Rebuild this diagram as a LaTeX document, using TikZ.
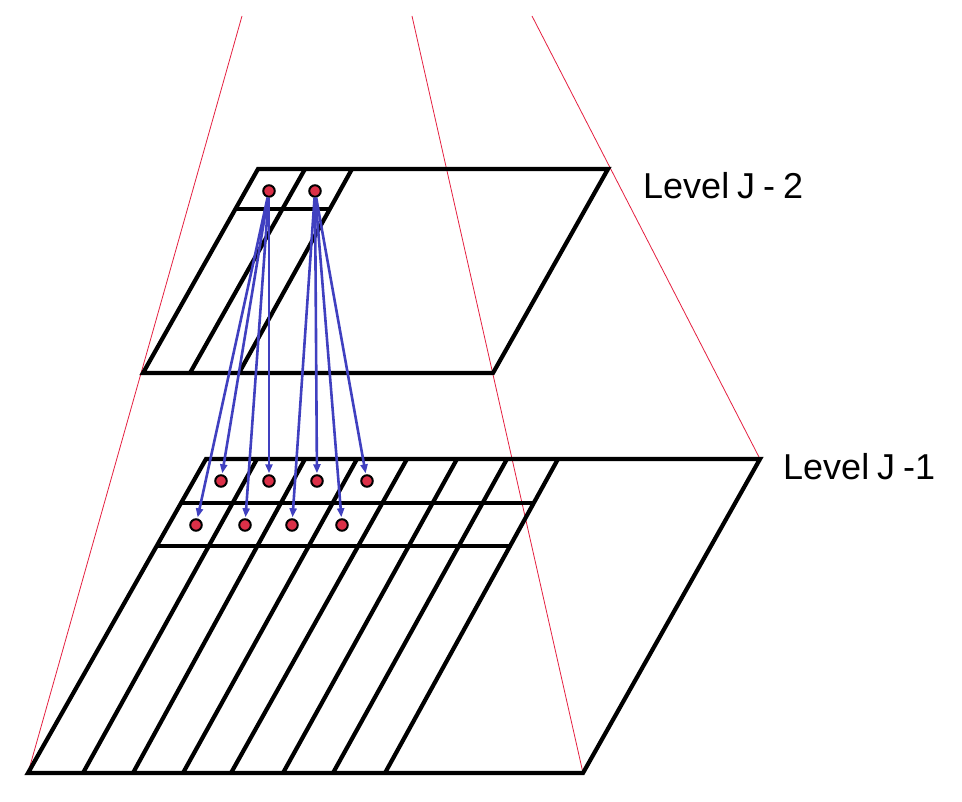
\documentclass[tikz,border=0pt]{standalone}
\usepackage{fontspec}
\setmainfont{Liberation Sans}[WordSpace=0.8]
\usetikzlibrary{arrows.meta}
\definecolor{arrowblue}{RGB}{64,64,192}
\definecolor{dotred}{RGB}{220,48,72}
\definecolor{linered}{RGB}{228,32,64}
\begin{document}
\begin{tikzpicture}[x=1pt,y=-1pt,
  grid/.style={line width=4.2pt, black, line join=miter},
  ray/.style={line width=0.8pt, linered},
  dotnode/.style={circle, fill=dotred, draw=black, line width=2pt, minimum size=11.5pt, inner sep=0pt},
  link/.style={arrowblue, line width=2.6pt, shorten >=1pt, -{Triangle[length=9pt,width=7pt]}},
  lbl/.style={font=\fontsize{36}{40}\selectfont, anchor=base west, inner sep=0pt}]
\useasboundingbox (0,0) rectangle (962,802);
% red rays
\coordinate (r1a) at (242,16);  \coordinate (r1b) at (28,773);
\coordinate (r2a) at (412,16);  \coordinate (r2b) at (583,773);
\coordinate (r3a) at (532,16);  \coordinate (r3b) at (760,459);
\draw[ray] (r1a) -- (r1b);
\draw[ray] (r2a) -- (r2b);
\draw[ray] (r3a) -- (r3b);
% upper level J-2
\draw[grid] (258,169) -- (608,169) -- (493,373) -- (143,373) -- cycle;
\draw[grid] (305,169) -- (190,373);
\draw[grid] (352,169) -- (239,373);
\draw[grid] (235.5,209) -- (330,209);
% lower level J-1
\draw[grid] (206,459) -- (760,459) -- (583,773) -- (28,773) -- cycle;
\foreach \t/\b in {257/83, 305/133, 357/183, 407/231, 457/283, 507/333, 558/385}
  \draw[grid] (\t,459) -- (\b,773);
\draw[grid] (181,503) -- (533.6,503);
\draw[grid] (156.7,546) -- (510,546);
% dots
\node[dotnode] (u1) at (269,191) {};
\node[dotnode] (u2) at (315,191) {};
\node[dotnode] (t1) at (221,481) {};
\node[dotnode] (t2) at (269,481) {};
\node[dotnode] (t3) at (317,481) {};
\node[dotnode] (t4) at (367,481) {};
\node[dotnode] (b1) at (196,525) {};
\node[dotnode] (b2) at (245,525) {};
\node[dotnode] (b3) at (292,525) {};
\node[dotnode] (b4) at (342,525) {};
% arrows
\draw[link] (u1) -- (b1);
\draw[link] (u1) -- (t1);
\draw[link] (u1) -- (b2);
\draw[link] (u1) -- (t2);
\draw[link] (u2) -- (b3);
\draw[link] (u2) -- (t3);
\draw[link] (u2) -- (b4);
\draw[link] (u2) -- (t4);
% labels
\node[lbl] (lab2) at (643,199) {Level J - 2};
\node[lbl] (lab1) at (783,479) {Level J -1};
\end{tikzpicture}
\end{document}
